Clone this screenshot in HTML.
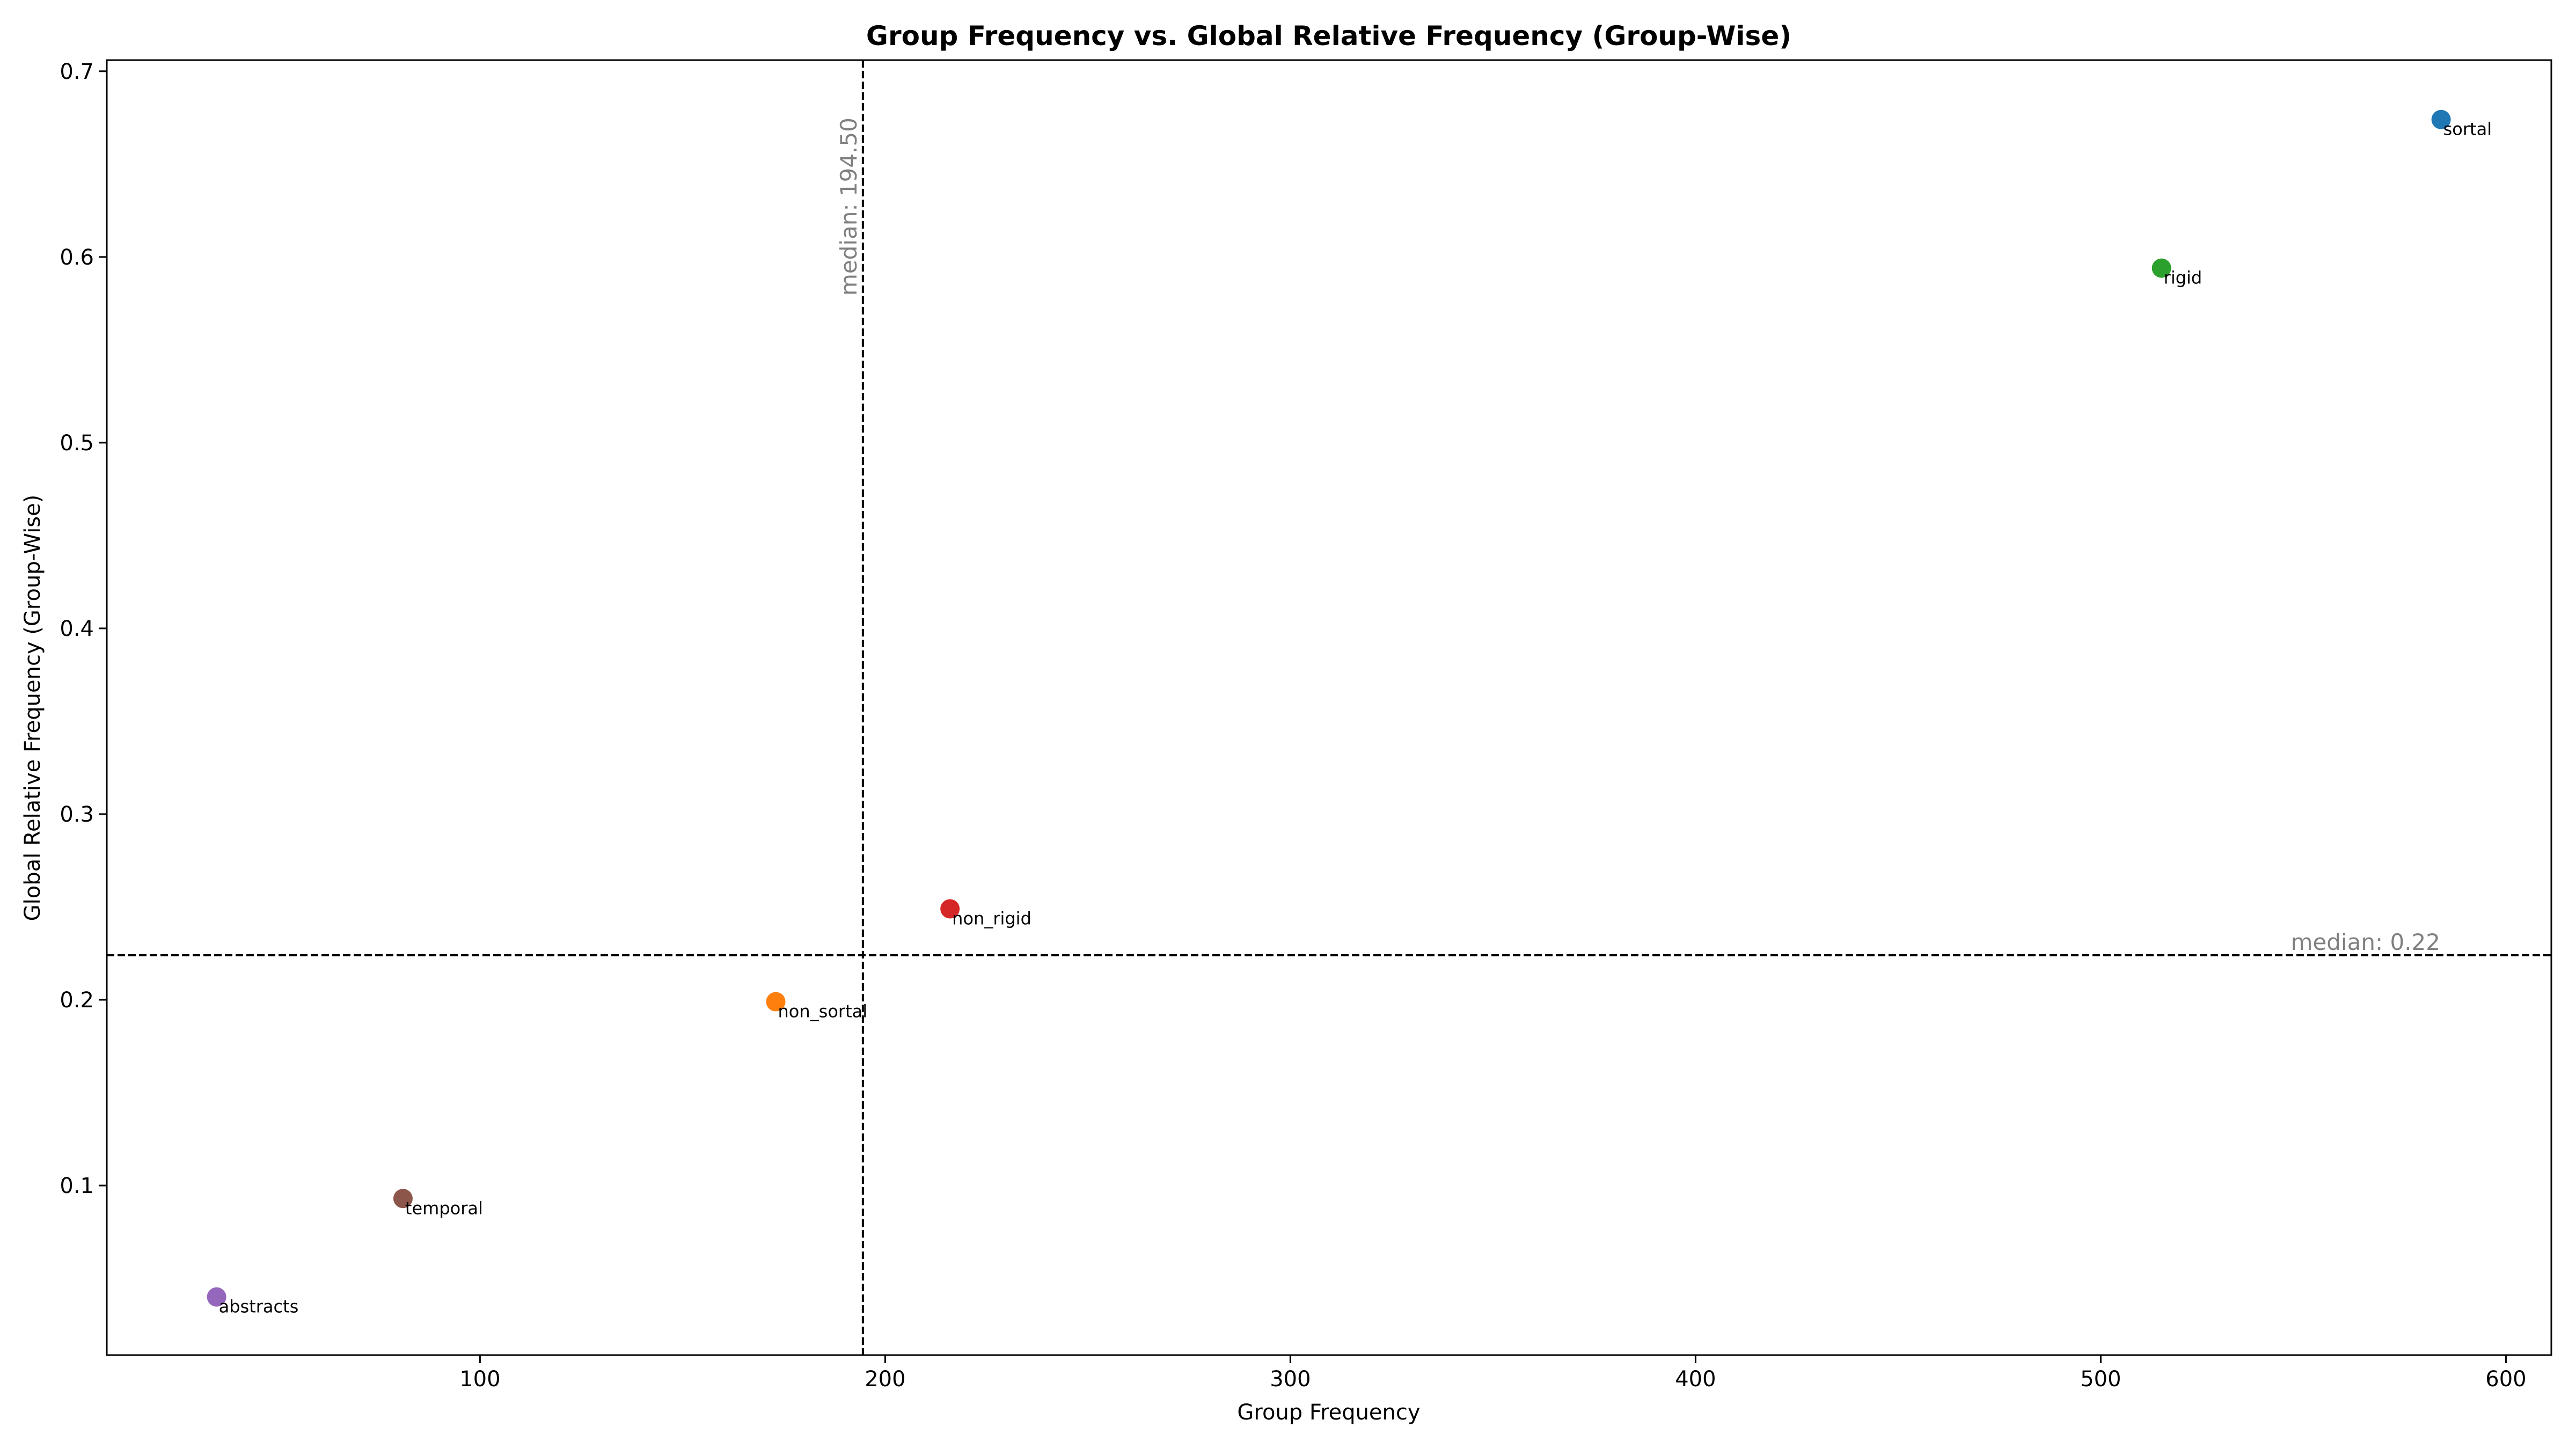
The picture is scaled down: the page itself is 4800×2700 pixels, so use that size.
<!DOCTYPE html>
<html><head><meta charset="utf-8"><style>html,body{margin:0;padding:0;background:#fff}svg{display:block}text{font-family:"DejaVu Sans","Liberation Sans",sans-serif}</style></head>
<body>
<svg id="chart" width="4800" height="2700" xmlns="http://www.w3.org/2000/svg">
<rect width="4800" height="2700" fill="#fff"/>
<text x="2476" y="84" font-size="50" font-weight="bold" text-anchor="middle">Group Frequency vs. Global Relative Frequency (Group-Wise)</text>
<text x="2476" y="2645" font-size="40" text-anchor="middle">Group Frequency</text>
<text x="0" y="0" font-size="40" text-anchor="middle" transform="translate(74,1319) rotate(-90)">Global Relative Frequency (Group-Wise)</text>
<g id="ticks"></g>
<g id="marks"></g>
<rect x="199" y="112" width="4555" height="2413" fill="none" stroke="#000" stroke-width="3"/>
</svg>
<script>
const labels = ["sortal","rigid","non_rigid","non_sortal","temporal","abstracts"];
const xValues = [584, 515, 216, 173, 81, 35];
const yValues = [0.674, 0.594, 0.249, 0.199, 0.093, 0.040];
const colors = ["#1f77b4","#2ca02c","#d62728","#ff7f0e","#8c564b","#9467bd"];
const xTicks = [100,200,300,400,500,600];
const yTicks = [0.1,0.2,0.3,0.4,0.5,0.6,0.7];
const medianX = 194.5;
const medianY = 0.224;

const L=199,R=4754,T=112,B=2525;
const xMin=7.9,xMax=611.2,yMin=0.0087,yMax=0.706;
const sx=v=>L+(v-xMin)/(xMax-xMin)*(R-L);
const sy=v=>B-(v-yMin)/(yMax-yMin)*(B-T);
const NS="http://www.w3.org/2000/svg";
function mk(tag,attrs,parent,txt){const e=document.createElementNS(NS,tag);for(const k in attrs)e.setAttribute(k,attrs[k]);if(txt!==undefined)e.textContent=txt;parent.appendChild(e);return e;}
const tg=document.getElementById('ticks'), mg=document.getElementById('marks');
xTicks.forEach(t=>{
  const l=mk('line',{x1:sx(t),x2:sx(t),y1:B,y2:B+15,stroke:'#000','stroke-width':3},tg);
  
  
  const tx=mk('text',{x:sx(t),y:B+58,'font-size':40,'text-anchor':'middle'},tg,String(t));
  
  
});
yTicks.forEach(t=>{
  const l=mk('line',{x1:L-15,x2:L,y1:sy(t),y2:sy(t),stroke:'#000','stroke-width':3},tg);
  
  
  const tx=mk('text',{x:L-24,y:sy(t)+14,'font-size':40,'text-anchor':'end'},tg,t.toFixed(1));
  
  
});
const vl=mk('line',{x1:sx(medianX),x2:sx(medianX),y1:T,y2:B,stroke:'#000','stroke-width':4,'stroke-dasharray':'14,6'},mg);


const hl=mk('line',{x1:L,x2:R,y1:sy(medianY),y2:sy(medianY),stroke:'#000','stroke-width':4,'stroke-dasharray':'14,6'},mg);


const vt=mk('text',{x:0,y:0,'font-size':42,fill:'#808080','text-anchor':'start',transform:`translate(${sx(medianX)-12},${551}) rotate(-90)`},mg,'median: '+medianX.toFixed(2));


const ht=mk('text',{x:4547,y:sy(medianY)-10,'font-size':42,fill:'#808080','text-anchor':'end'},mg,'median: '+medianY.toFixed(2));


labels.forEach((n,i)=>{
  const c=mk('circle',{cx:sx(xValues[i]),cy:sy(yValues[i]),r:18,fill:colors[i]},mg);
  
  
  const t=mk('text',{x:sx(xValues[i])+4,y:sy(yValues[i])+29,'font-size':32},mg,n);
  
  
});
</script>
</body></html>
